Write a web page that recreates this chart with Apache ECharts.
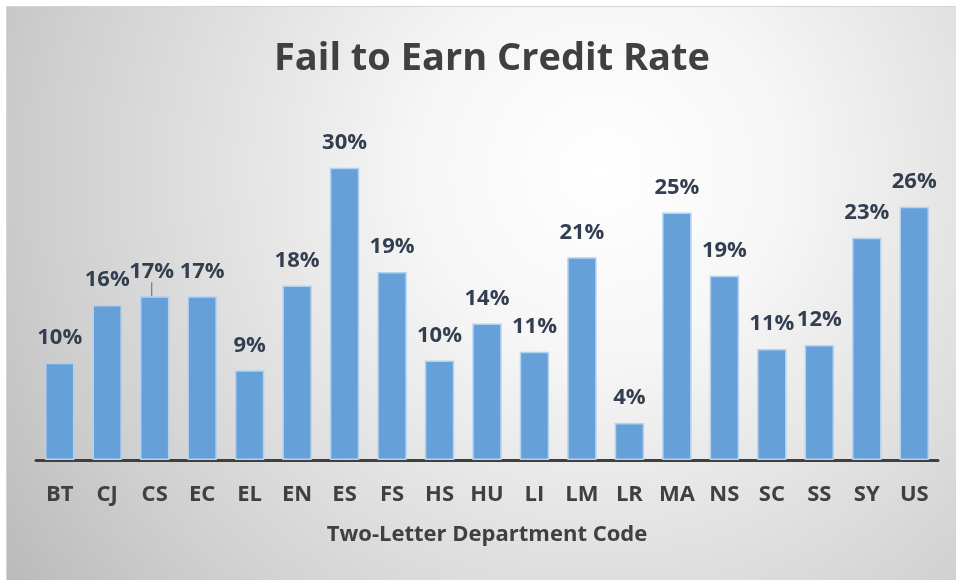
<!DOCTYPE html>
<html>
<head>
<meta charset="utf-8">
<script src="https://cdn.jsdelivr.net/npm/echarts@6/dist/echarts.min.js"></script>
<style>html,body{margin:0;padding:0;background:#fff;}#c{width:956px;height:580px;}</style>
</head>
<body>
<div id="c"></div>
<script>
const categories = ['BT','CJ','CS','EC','EL','EN','ES','FS','HS','HU','LI','LM','LR','MA','NS','SC','SS','SY','US'];
const rates = [0.10,0.16,0.17,0.17,0.09,0.18,0.30,0.19,0.10,0.14,0.11,0.21,0.04,0.25,0.19,0.11,0.12,0.23,0.26];
const barHeights = [0.0997,0.159,0.168,0.168,0.092,0.179,0.30,0.193,0.102,0.140,0.111,0.208,0.038,0.254,0.189,0.114,0.118,0.228,0.26];
const titleText = 'Fail to Earn Credit Rate';
const xAxisTitle = 'Two-Letter Department Code';

const FONT = '"Open Sans", "Noto Sans", sans-serif';
const chart = echarts.init(document.getElementById('c'), null, {renderer:'canvas'});
chart.setOption({
  animation:false,
  graphic:[{
    type:'rect', z:-10, silent:true,
    shape:{x:6.5,y:6.5,width:960,height:590},
    style:{
      fill:{type:'radial', x:0.62, y:0.28, r:1.25,
        colorStops:[{offset:0,color:'#ffffff'},{offset:0.25,color:'#f6f6f6'},{offset:0.75,color:'#cfcfcf'},{offset:1,color:'#b8b8b8'}]},
      stroke:'#d4d4d4', lineWidth:1
    }
  }],
  title:{
    text:titleText, left:487, top:35, textAlign:'center',
    textStyle:{fontFamily:FONT, fontSize:38, fontWeight:'bold', color:'#404040'}
  },
  grid:{left:36, right:18, top:119, bottom:120, containLabel:false},
  xAxis:{
    type:'category', data:categories,
    axisLine:{lineStyle:{color:'#404040', width:3}},
    axisTick:{show:false},
    axisLabel:{fontFamily:FONT, fontSize:22, fontWeight:'bold', color:'#404040', margin:24},
    name:xAxisTitle, nameLocation:'middle', nameGap:64,
    nameTextStyle:{fontFamily:FONT, fontSize:22, fontWeight:'bold', color:'#404040'}
  },
  yAxis:{type:'value', min:0, max:0.35, show:false, splitLine:{show:false}},
  series:[{
    type:'bar',
    data:barHeights.map((v,i)=>i===2
      ? {value:v, labelLine:{show:true, lineStyle:{color:'#7f7f7f', width:1.3}}}
      : {value:v}),
    barCategoryGap:'38%',
    itemStyle:{color:'#65a0d9', borderColor:'#b3d2ee', borderWidth:1.5},
    label:{
      show:true, position:'top', distance:14,
      fontFamily:FONT, fontSize:22, fontWeight:'bold', color:'#333f50',
      formatter:p=>Math.round(rates[p.dataIndex]*100)+'%'
    },
    labelLayout:function(p){ if(p.dataIndex===2) return {dx:-3, dy:0}; },
    labelLine:{show:false}
  }]
});
</script>
</body>
</html>
